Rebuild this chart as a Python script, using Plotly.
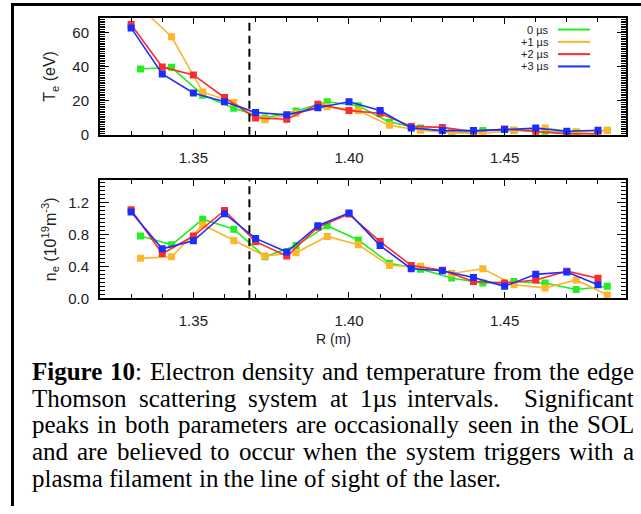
import re
import plotly.graph_objects as go

# ---------------- data ----------------
R_a = [1.330, 1.340, 1.350, 1.360, 1.370, 1.380, 1.390, 1.400,
       1.410, 1.420, 1.430, 1.440, 1.450, 1.460, 1.470, 1.480]
R_b = [1.333, 1.343, 1.353, 1.363, 1.373, 1.383, 1.393, 1.403,
       1.413, 1.423, 1.433, 1.443, 1.453, 1.463, 1.473, 1.483]

Te_0us = [38.8, 39.8, 23.4, 15.7, 9.9, 14.0, 19.5, 17.2, 7.5, 4.0, 1.2, 2.5, 2.7, 1.7, 1.7, 2.7]
Te_1us = [75.0, 57.8, 25.3, 19.0, 8.9, 12.8, 16.6, 14.3, 5.6, 2.7, 1.2, 0.8, 2.7, 4.0, 1.5, 2.5]
Te_2us = [65.0, 40.0, 35.3, 22.0, 9.9, 9.2, 18.0, 14.3, 12.7, 5.0, 4.4, 2.0, 3.5, 2.0, 0.6, 0.6]
Te_3us = [63.0, 35.9, 24.7, 19.5, 13.2, 11.8, 16.0, 19.5, 14.3, 4.0, 2.5, 2.5, 3.1, 4.0, 2.1, 2.7]

ne_0us = [0.78, 0.67, 0.99, 0.865, 0.52, 0.66, 0.91, 0.73, 0.44, 0.365, 0.255, 0.19, 0.21, 0.19, 0.11, 0.15]
ne_1us = [0.50, 0.52, 0.92, 0.72, 0.53, 0.57, 0.775, 0.67, 0.41, 0.40, 0.31, 0.37, 0.17, 0.13, 0.23, 0.04]
ne_2us = [1.11, 0.56, 0.78, 1.10, 0.71, 0.53, 0.89, 1.055, 0.71, 0.41, 0.35, 0.21, 0.19, 0.23, 0.34, 0.25]
ne_3us = [1.08, 0.62, 0.72, 1.06, 0.75, 0.58, 0.91, 1.07, 0.66, 0.37, 0.345, 0.26, 0.15, 0.30, 0.33, 0.17]

series_labels = ["0 \u00b5s", "+1 \u00b5s", "+2 \u00b5s", "+3 \u00b5s"]
series_colors = ["#22ee22", "#ffb42a", "#ff2a2a", "#1a2eff"]

separatrix_R = 1.368

x_tickvals = [1.35, 1.40, 1.45]
x_ticktext = ["1.35", "1.40", "1.45"]
te_tickvals = [0, 20, 40, 60]
te_ticktext = ["0", "20", "40", "60"]
te_midticks = [10, 30, 50]
ne_tickvals = [0.0, 0.4, 0.8, 1.2]
ne_ticktext = ["0.0", "0.4", "0.8", "1.2"]
ne_midticks = [0.2, 0.6, 1.0, 1.4]

te_title = "T<sub>e</sub> (eV)"
ne_title = "n<sub>e</sub> (10<sup>19</sup>m<sup>-3</sup>)"
x_title = "R (m)"

caption_lines = [
    "<b>Figure</b> <b>10</b>: Electron density and temperature from the edge",
    "Thomson scattering system at 1\u00b5s intervals.  Significant",
    "peaks in both parameters are occasionally seen in the SOL",
    "and are believed to occur when the system triggers with a",
    "plasma filament in\u2009the line of sight of the laser.",
]

# ---------------- helpers (layout only) ----------------
W, H = 641, 514
def px(x):
    return x / W
def py(y):
    return 1 - y / H

SANS = "Liberation Sans, Arial, sans-serif"
SERIF = "Liberation Serif, Times New Roman, serif"

fig = go.Figure()

Te_series = [Te_0us, Te_1us, Te_2us, Te_3us]
ne_series = [ne_0us, ne_1us, ne_2us, ne_3us]
R_series = [R_b, R_b, R_a, R_a]
for i in range(4):
    fig.add_trace(go.Scatter(
        x=R_series[i], y=Te_series[i], xaxis="x", yaxis="y",
        mode="lines+markers", name=series_labels[i],
        line=dict(color=series_colors[i], width=1.6),
        marker=dict(symbol="square", size=7, color=series_colors[i]),
        showlegend=False))
    fig.add_trace(go.Scatter(
        x=R_series[i], y=ne_series[i], xaxis="x2", yaxis="y2",
        mode="lines+markers", name=series_labels[i],
        line=dict(color=series_colors[i], width=1.6),
        marker=dict(symbol="square", size=7, color=series_colors[i]),
        showlegend=False))

xdom = [px(100), px(626)]
top_dom = [py(137), py(18)]
bot_dom = [py(303), py(183)]
te_range = [0, 69]
ne_range = [0, 1.48]

common_x = dict(
    range=[1.32, 1.489], tickmode="array", tickvals=x_tickvals, ticktext=x_ticktext,
    ticks="inside", ticklen=6, tickwidth=1, tickcolor="black",
    showline=True, linecolor="black", linewidth=2, mirror="allticks",
    showgrid=False, zeroline=False,
    tickfont=dict(family=SANS, size=15, color="#222"),
    ticklabelstandoff=8,
    minor=dict(dtick=0.01, tick0=1.30, ticks="inside", ticklen=4,
               tickcolor="black", tickwidth=1, showgrid=False),
)
common_y = dict(
    tickmode="array", ticks="inside", ticklen=9, tickwidth=1, tickcolor="black",
    showline=True, linecolor="black", linewidth=2, mirror="allticks",
    showgrid=False, zeroline=False,
    tickfont=dict(family=SANS, size=15, color="#222"),
    ticklabelstandoff=6,
)
mid_y = dict(
    tickmode="array", ticks="inside", ticklen=9, tickwidth=1, tickcolor="black",
    showline=False, mirror="allticks", showticklabels=False,
    showgrid=False, zeroline=False,
)

fig.update_layout(
    width=W, height=H, autosize=False,
    margin=dict(l=0, r=0, t=0, b=0),
    paper_bgcolor="white", plot_bgcolor="white",
    showlegend=False,
    xaxis=dict(domain=xdom, anchor="y", **common_x),
    xaxis2=dict(domain=xdom, anchor="y2", **common_x),
    yaxis=dict(domain=top_dom, anchor="x", range=te_range,
               tickvals=te_tickvals, ticktext=te_ticktext,
               minor=dict(dtick=1, tick0=0, ticks="inside", ticklen=5,
                          tickcolor="black", tickwidth=1, showgrid=False),
               **common_y),
    yaxis2=dict(domain=bot_dom, anchor="x2", range=ne_range,
                tickvals=ne_tickvals, ticktext=ne_ticktext,
                minor=dict(dtick=0.05, tick0=0, ticks="inside", ticklen=5,
                           tickcolor="black", tickwidth=1, showgrid=False),
                **common_y),
    yaxis3=dict(domain=top_dom, anchor="x", overlaying="y", range=te_range,
                tickvals=te_midticks, **mid_y),
    yaxis4=dict(domain=bot_dom, anchor="x2", overlaying="y2", range=ne_range,
                tickvals=ne_midticks, **mid_y),
)

shapes = []
# separatrix dashed lines
for xr, yr in (("x", "y domain"), ("x2", "y2 domain")):
    shapes.append(dict(type="line", xref=xr, yref=yr, x0=separatrix_R, x1=separatrix_R,
                       y0=0, y1=1, line=dict(color="black", width=2, dash="8px,5px")))
# outer frame (left and top edges)
shapes.append(dict(type="line", xref="paper", yref="paper", x0=px(12.5), x1=px(12.5),
                   y0=py(4.5), y1=0, line=dict(color="black", width=3)))
shapes.append(dict(type="line", xref="paper", yref="paper", x0=px(11), x1=1,
                   y0=py(4.5), y1=py(4.5), line=dict(color="black", width=3)))

annotations = []
# custom legend (text right-aligned, line sample on the right)
leg_rows = [30, 42.5, 55, 67.5]
for i in range(4):
    annotations.append(dict(xref="paper", yref="paper", x=px(549), y=py(leg_rows[i]),
                            xanchor="right", yanchor="middle", showarrow=False,
                            text=series_labels[i], borderpad=0, borderwidth=0,
                            font=dict(family=SANS, size=11, color="#222")))
    shapes.append(dict(type="line", xref="paper", yref="paper", x0=px(558), x1=px(590),
                       y0=py(leg_rows[i]), y1=py(leg_rows[i]),
                       line=dict(color=series_colors[i], width=2)))

# axis titles
annotations.append(dict(xref="paper", yref="paper", x=px(51), y=py(78), textangle=-90,
                        xanchor="center", yanchor="middle", showarrow=False, text=te_title,
                        font=dict(family=SANS, size=16, color="#222")))
annotations.append(dict(xref="paper", yref="paper", x=px(50), y=py(243), textangle=-90,
                        xanchor="center", yanchor="middle", showarrow=False, text=ne_title,
                        font=dict(family=SANS, size=16, color="#222")))
annotations.append(dict(xref="paper", yref="paper", x=px(333), y=py(344),
                        xanchor="center", yanchor="middle", showarrow=False, text=x_title,
                        font=dict(family=SANS, size=14, color="#222")))

# caption with justified lines (Times metrics, Liberation Serif is metric compatible)
REG = {' ': 250, '.': 250, ',': 250, ':': 278, '\u00b5': 500, '\u2009': 200,
       'a': 444, 'b': 500, 'c': 444, 'd': 500, 'e': 444, 'f': 333, 'g': 500, 'h': 500,
       'i': 278, 'j': 278, 'k': 500, 'l': 278, 'm': 778, 'n': 500, 'o': 500, 'p': 500,
       'q': 500, 'r': 333, 's': 389, 't': 278, 'u': 500, 'v': 500, 'w': 722, 'x': 500,
       'y': 500, 'z': 444, 'E': 611, 'F': 556, 'L': 611, 'O': 722, 'S': 556, 'T': 611}
BOLD = {'F': 611, 'i': 278, 'g': 500, 'u': 556, 'r': 444, 'e': 444, ' ': 250}
CAP_SIZE = 25
def word_width(w):
    tot = 0.0
    for m in re.finditer(r"<b>(.*?)</b>|([^<]+)", w):
        if m.group(1) is not None:
            tot += sum(BOLD.get(c, 500) for c in m.group(1))
        else:
            tot += sum(REG.get(c, 500) for c in m.group(2))
    return tot * CAP_SIZE / 1000.0

CAP_LEFT, CAP_RIGHT = 32, 634
cap_baselines = [386, 413, 440, 467, 494]
justify = [True, True, True, True, False]
space_w = 250 * CAP_SIZE / 1000.0
for li, line in enumerate(caption_lines):
    words, gaps, pending = [], [], 0
    for t in line.split(' '):
        if t == '':
            pending += 1
            continue
        gaps.append(pending if words else 0)
        words.append(t)
        pending = 1
    widths = [word_width(w) for w in words]
    nat = sum(widths) + sum(gaps) * space_w
    extra = (CAP_RIGHT - CAP_LEFT - nat) / sum(gaps) if justify[li] else 0.0
    x = CAP_LEFT
    for wi, w in enumerate(words):
        x += gaps[wi] * (space_w + extra)
        annotations.append(dict(xref="paper", yref="paper", x=px(x),
                                y=py(cap_baselines[li] + 0.216 * CAP_SIZE),
                                xanchor="left", yanchor="bottom", showarrow=False,
                                text=w, borderpad=0, borderwidth=0,
                                font=dict(family=SERIF, size=CAP_SIZE, color="black")))
        x += widths[wi]

fig.update_layout(shapes=shapes, annotations=annotations)
fig.write_html("out.html")
